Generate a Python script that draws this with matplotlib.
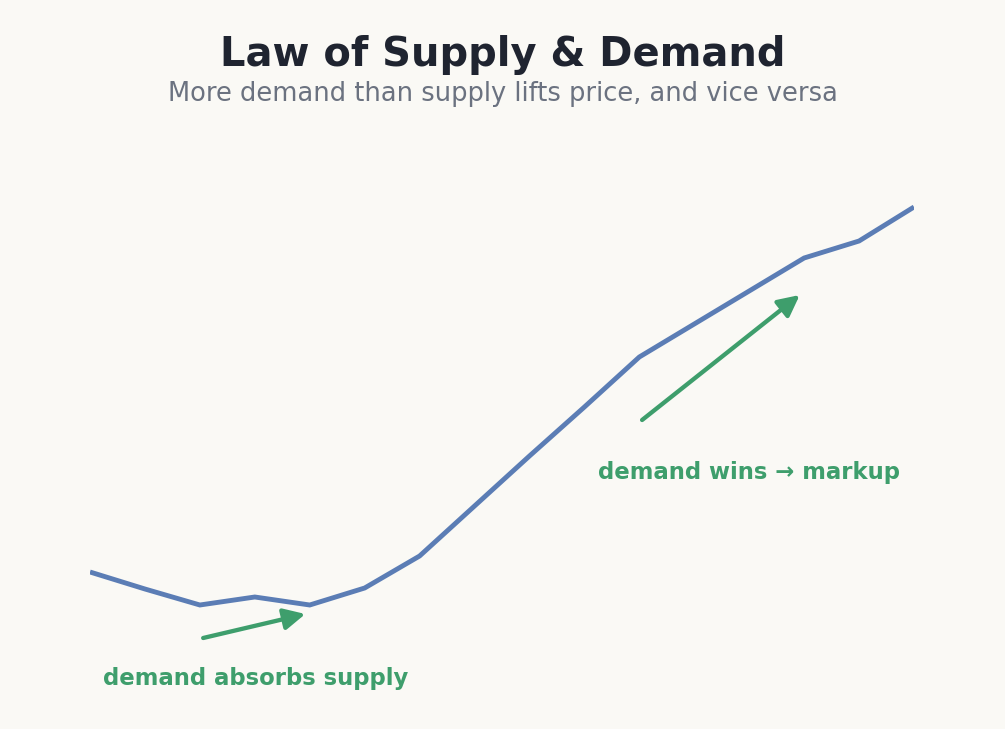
import matplotlib.pyplot as plt
import numpy as np

plt.rcParams['font.family'] = ['DejaVu Sans']

# Данные
periods = np.arange(16)
price = [12.8, 11.1, 9.5, 10.3, 9.5, 11.2, 14.4, 19.4, 24.4, 29.3,
         34.3, 37.6, 40.9, 44.2, 45.9, 49.3]

title = 'Law of Supply & Demand'
subtitle = 'More demand than supply lifts price, and vice versa'
note_low = 'demand absorbs supply'
note_high = 'demand wins \u2192 markup'

bg = '#faf9f5'
line_color = '#5b7db5'
green = '#3e9e6c'

W, H = 1005, 729
fig = plt.figure(figsize=(W / 100, H / 100), dpi=100, facecolor=bg)
ax = fig.add_axes([90 / W, 29 / H, (914 - 90) / W, 700 / H])
ax.set_facecolor(bg)
ax.plot(periods, price, color=line_color, lw=3.5, solid_capstyle='butt',
        solid_joinstyle='miter')
ax.set_xlim(0, 15)
ax.set_ylim(0, 70)
ax.axis('off')

# Подписи
arrow = dict(arrowstyle='-|>', color=green, lw=3.1, mutation_scale=32,
             shrinkA=0, shrinkB=0, capstyle='round', joinstyle='round')
ax.annotate('', xy=(3.92, 8.6), xytext=(2.06, 6.2), arrowprops=arrow)
ax.annotate('', xy=(12.92, 40.5), xytext=(10.05, 28.0), arrowprops=arrow)
ax.text(3.02, 2.1, note_low, color=green, fontsize=16.4, fontweight='bold',
        ha='center', va='center')
ax.text(12.0, 22.8, note_high, color=green, fontsize=16.4, fontweight='bold',
        ha='center', va='center')

fig.text(0.5, 1 - 55 / H, title, ha='center', va='center', fontsize=28.8,
         fontweight='bold', color='#1f2430')
fig.text(0.5, 1 - 94 / H, subtitle, ha='center', va='center', fontsize=18.5,
         color='#6b7280')

fig.savefig('out.png', dpi=100, facecolor=bg)
